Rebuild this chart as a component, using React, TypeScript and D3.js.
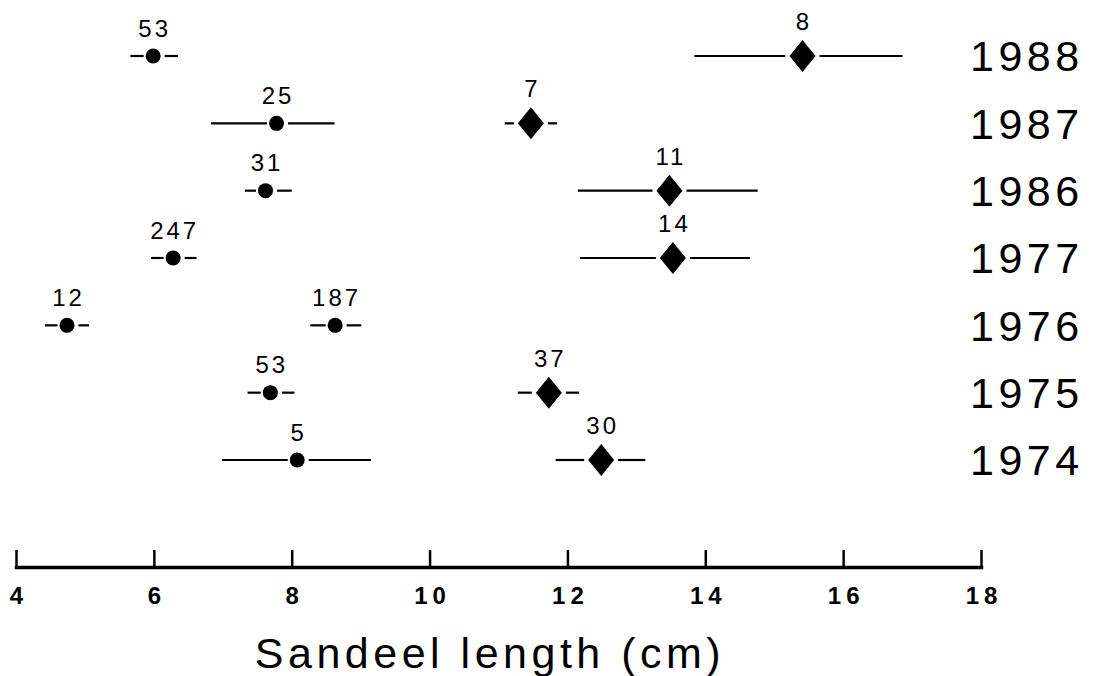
import React, { useEffect, useRef } from "react";
import * as d3 from "d3";

// Rows (top to bottom)
const years = ["1988", "1987", "1986", "1977", "1976", "1975", "1974"];

// Axis
const xTicks = [4, 6, 8, 10, 12, 14, 16, 18];
const axisTitle = "Sandeel length (cm)";

// Circle series (mean ± range) with sample sizes
const circleYears = ["1988", "1987", "1986", "1977", "1976", "1976", "1975", "1974"];
const circleMean = [5.99, 7.78, 7.62, 6.28, 4.74, 8.63, 7.69, 8.08];
const circleLo = [5.66, 6.83, 7.32, 5.96, 4.42, 8.27, 7.36, 6.99];
const circleHi = [6.35, 8.62, 8.0, 6.62, 5.06, 9.01, 8.04, 9.15];
const circleN = ["53", "25", "31", "247", "12", "187", "53", "5"];

// Diamond series (mean ± range) with sample sizes
const diamondYears = ["1988", "1987", "1986", "1977", "1975", "1974"];
const diamondMean = [15.41, 11.47, 13.48, 13.53, 11.73, 12.49];
const diamondLo = [13.84, 11.09, 12.15, 12.18, 11.28, 11.83];
const diamondHi = [16.86, 11.85, 14.76, 14.65, 12.17, 13.13];
const diamondN = ["8", "7", "11", "14", "37", "30"];

const W = 1098;
const H = 676;
const FONT = "'Liberation Sans', Arial, Helvetica, sans-serif";

export default function App() {
  const axisRef = useRef<SVGGElement>(null);
  const x = d3.scaleLinear().domain([4, 18]).range([16, 981]);
  const y = d3.scalePoint<string>().domain(years).range([56, 460]);
  const axisY = 567;

  const R = 7.5; // circle radius
  const DW = 13; // diamond half width
  const DH = 16; // diamond half height
  const GAP = 4;

  useEffect(() => {
    if (!axisRef.current) return;
    const g = d3.select(axisRef.current);
    g.selectAll("*").remove();
    g.call(
      d3
        .axisBottom(x)
        .tickValues(xTicks)
        .tickSize(-17)
        .tickSizeOuter(0)
        .tickPadding(20)
        .tickFormat(d3.format("d")) as any
    );
    g.attr("font-family", FONT).attr("font-size", 24);
    g.select(".domain").attr("stroke", "#000").attr("stroke-width", 3.5).attr("stroke-linecap", "square");
    g.selectAll(".tick line").attr("stroke", "#000").attr("stroke-width", 2.5);
    g.selectAll(".tick text")
      .attr("fill", "#000")
      .attr("font-weight", "bold")
      .attr("letter-spacing", 5)
      .attr("dx", 2.5);
  }, []);

  const diamondPath = (cx: number, cy: number) =>
    `M${cx},${cy - DH}L${cx + DW},${cy}L${cx},${cy + DH}L${cx - DW},${cy}Z`;

  return (
    <svg
      width={W}
      height={H}
      style={{ position: "absolute", left: 0, top: 0, background: "#fff" }}
    >
      <rect x={0} y={0} width={W} height={H} fill="#fff" />

      {/* circle series */}
      {circleYears.map((yr, i) => {
        const cx = x(circleMean[i]);
        const cy = y(yr)!;
        const lo = x(circleLo[i]);
        const hi = x(circleHi[i]);
        return (
          <g key={"c" + i}>
            <line x1={lo} x2={cx - R - GAP + 2} y1={cy} y2={cy} stroke="#000" strokeWidth={2.2} />
            <line x1={cx + R + GAP} x2={hi} y1={cy} y2={cy} stroke="#000" strokeWidth={2.2} />
            <circle cx={cx} cy={cy} r={R} fill="#000" />
            <text
              x={cx + 1.5}
              y={cy - R - 12}
              textAnchor="middle"
              fontFamily={FONT}
              fontSize={24}
              letterSpacing={3}
              fill="#000"
            >
              {circleN[i]}
            </text>
          </g>
        );
      })}

      {/* diamond series */}
      {diamondYears.map((yr, i) => {
        const cx = x(diamondMean[i]);
        const cy = y(yr)!;
        const lo = x(diamondLo[i]);
        const hi = x(diamondHi[i]);
        return (
          <g key={"d" + i}>
            <line x1={lo} x2={cx - DW - GAP} y1={cy} y2={cy} stroke="#000" strokeWidth={2.2} />
            <line x1={cx + DW + GAP} x2={hi} y1={cy} y2={cy} stroke="#000" strokeWidth={2.2} />
            <path d={diamondPath(cx, cy)} fill="#000" />
            <text
              x={cx + 1.5}
              y={cy - DH - 10}
              textAnchor="middle"
              fontFamily={FONT}
              fontSize={24}
              letterSpacing={3}
              fill="#000"
            >
              {diamondN[i]}
            </text>
          </g>
        );
      })}

      {/* year labels */}
      {years.map((yr) => (
        <text
          key={yr}
          x={970}
          y={y(yr)!}
          dy="0.36em"
          fontFamily={FONT}
          fontSize={43}
          letterSpacing={4.5}
          fill="#000"
        >
          {yr}
        </text>
      ))}

      {/* x axis */}
      <g ref={axisRef} transform={`translate(0,${axisY})`} />

      <text
        x={490}
        y={668}
        textAnchor="middle"
        fontFamily={FONT}
        fontSize={43}
        letterSpacing={4.5}
        fill="#000"
      >
        {axisTitle}
      </text>
    </svg>
  );
}
